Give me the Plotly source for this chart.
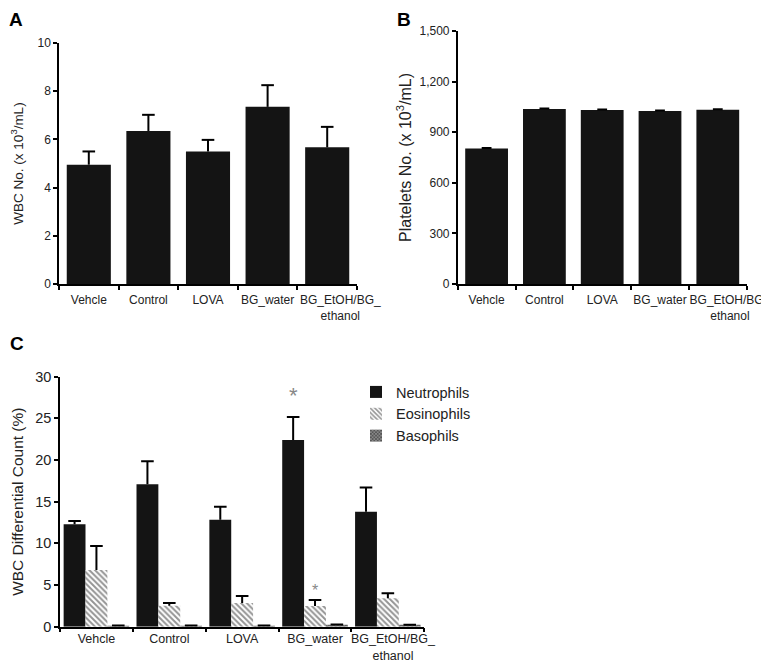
import plotly.graph_objects as go

groups = ["Vehcle", "Control", "LOVA", "BG_water", "BG_EtOH/BG_ethanol"]
tick_text = ["Vehcle", "Control", "LOVA", "BG_water", "BG_EtOH/BG_<br>ethanol"]

# Panel A: WBC No. (x10^3/mL)
wbc = [4.95, 6.35, 5.5, 7.35, 5.67]
wbc_err = [0.55, 0.67, 0.48, 0.9, 0.85]

# Panel B: Platelets No. (x10^3/mL)
plt_vals = [804, 1037, 1031, 1025, 1033]
plt_err = [3, 3, 3, 3, 3]

# Panel C: WBC differential count (%)
neutro = [12.3, 17.1, 12.84, 22.4, 13.8]
neutro_err = [0.38, 2.75, 1.56, 2.75, 2.9]
eosino = [6.8, 2.5, 2.84, 2.48, 3.4]
eosino_err = [2.88, 0.35, 0.84, 0.72, 0.6]
baso = [0.12, 0.12, 0.12, 0.2, 0.18]
baso_err = [0.03, 0.03, 0.03, 0.05, 0.05]
sig_neutro = ["BG_water"]
sig_eosino = ["BG_water"]

FONT = "Liberation Sans, Arial, sans-serif"
BAR = "#141414"
idx = list(range(len(groups)))

# page has an 8px body margin: map page pixels to paper fractions
OFF = 8
W, H = 769 - OFF, 663 - OFF
def px(x):
    return (x - OFF) / W
def py(y):
    return 1 - (y - OFF) / H

fig = go.Figure()

def stem(arr):
    return dict(type="data", array=arr, arrayminus=[0] * len(arr), symmetric=False,
                color="black", thickness=2, width=0)

def add_bar(y, e, xa, ya, width, offset, marker, name=None, legend=False, cap=9):
    fig.add_trace(go.Bar(x=idx, y=y, error_y=stem(e), marker=marker, width=width, offset=offset,
                         xaxis=xa, yaxis=ya, name=name, showlegend=legend))
    center = offset + width / 2
    fig.add_trace(go.Scatter(x=[i + center for i in idx], y=[v + d for v, d in zip(y, e)],
                             mode="markers", xaxis=xa, yaxis=ya, showlegend=False, hoverinfo="skip",
                             marker=dict(symbol="line-ew", size=cap, line=dict(width=2, color="black"))))

solid = dict(color=BAR, line=dict(width=0))
add_bar(wbc, wbc_err, "x", "y", 0.74, -0.37, solid, cap=9)
add_bar(plt_vals, plt_err, "x2", "y2", 0.74, -0.37, solid, cap=7)

w = 0.3
add_bar(neutro, neutro_err, "x3", "y3", w, -1.5 * w, solid, name="Neutrophils", legend=True)
add_bar(eosino, eosino_err, "x3", "y3", w, -0.5 * w,
        dict(color="white", line=dict(width=0),
             pattern=dict(shape="\\", fgcolor="#2a2a2a", bgcolor="white", size=4, solidity=0.5)),
        name="Eosinophils", legend=True)
add_bar(baso, baso_err, "x3", "y3", w, 0.5 * w,
        dict(color="#333", line=dict(width=0),
             pattern=dict(shape="x", fgcolor="#111", bgcolor="#888", size=3, solidity=0.5)),
        name="Basophils", legend=True)

def xax(domain, anchor, size, last_shift, tlen):
    tv = idx[:-1] + [idx[-1] + last_shift]
    return dict(domain=domain, anchor=anchor, type="linear", range=[-0.5, len(groups) - 0.5],
                tickmode="array", tickvals=tv, ticktext=tick_text, tickangle=0,
                ticks="outside", ticklen=tlen, tickcolor="rgba(0,0,0,0)", ticklabeloverflow="allow",
                minor=dict(tickmode="array", tickvals=[i - 0.5 for i in range(len(groups) + 1)],
                           ticks="outside", ticklen=4, tickwidth=1.5, tickcolor="black", showgrid=False),
                showline=True, linecolor="black", linewidth=1.5, showgrid=False,
                zeroline=False, tickfont=dict(family=FONT, size=size, color="#222"),
                automargin=False, fixedrange=True)

def yax(domain, anchor, rng, dtick, title, tsize, fsize, standoff, fmt=None):
    d = dict(domain=domain, anchor=anchor, range=rng, dtick=dtick, tick0=0,
             ticks="outside", ticklen=4, tickwidth=1.5, tickcolor="black",
             showline=True, linecolor="black", linewidth=1.5, showgrid=False,
             zeroline=False, tickfont=dict(family=FONT, size=fsize, color="#222"),
             automargin=False, fixedrange=True,
             title=dict(text=title, font=dict(family=FONT, size=tsize, color="#222"), standoff=standoff))
    if fmt:
        d["tickformat"] = fmt
    return d

fig.update_layout(
    width=W, height=H,
    margin=dict(l=0, r=0, t=0, b=0),
    paper_bgcolor="white", plot_bgcolor="white",
    font=dict(family=FONT, color="#222"),
    barmode="overlay",
    xaxis=xax([px(59), px(357)], "y", 12, 0.22, 4),
    yaxis=yax([py(284), py(43)], "x", [0, 10], 2, "WBC No. (x 10<sup>3</sup>/mL)", 13.5, 12, 15),
    xaxis2=xax([px(457.7), px(746.7)], "y2", 12, 0.21, 4),
    yaxis2=yax([py(284), py(31)], "x2", [0, 1500], 300, "Platelets No. (x 10<sup>3</sup>/mL)", 16, 12, 4, ","),
    xaxis3=xax([px(60), px(424.3)], "y3", 12.5, 0.07, 0),
    yaxis3=yax([py(626.7), py(376.7)], "x3", [0, 30], 5, "WBC Differential Count (%)", 15.5, 14.5, 8),
    legend=dict(x=px(356), y=py(376), xanchor="left", yanchor="top", bgcolor="rgba(0,0,0,0)",
                font=dict(family=FONT, size=14.5, color="#222"), tracegroupgap=0, itemwidth=30),
    showlegend=True,
)

anns = [
    dict(text="<b>A</b>", x=0, y=1, xref="paper", yref="paper", xanchor="left", yanchor="top",
         showarrow=False, font=dict(family=FONT, size=19, color="black"), borderpad=0),
    dict(text="<b>B</b>", x=px(396), y=1, xref="paper", yref="paper", xanchor="left", yanchor="top",
         showarrow=False, font=dict(family=FONT, size=19, color="black"), borderpad=0),
    dict(text="<b>C</b>", x=0, y=py(343), xref="paper", yref="paper", xanchor="left", yanchor="middle",
         showarrow=False, font=dict(family=FONT, size=19, color="black")),
]
for g in sig_neutro:
    i = groups.index(g)
    anns.append(dict(text="*", x=i - w, y=neutro[i] + neutro_err[i] + 2.6, xref="x3", yref="y3",
                     showarrow=False, font=dict(family=FONT, size=22, color="#888")))
for g in sig_eosino:
    i = groups.index(g)
    anns.append(dict(text="*", x=i, y=eosino[i] + eosino_err[i] + 1.2, xref="x3", yref="y3",
                     showarrow=False, font=dict(family=FONT, size=16, color="#888")))
fig.update_layout(annotations=anns)

fig.write_html("out.html")
